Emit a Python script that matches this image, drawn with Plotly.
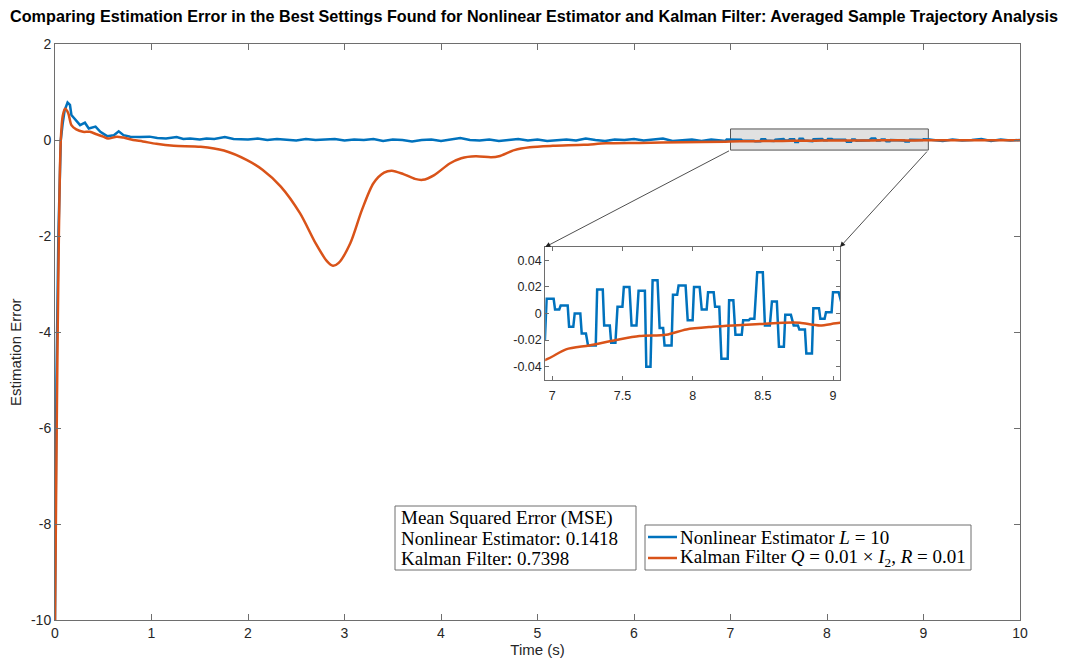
import plotly.graph_objects as go

BLUE = "#0072BD"
ORANGE = "#D95319"

# ---------------- data ----------------
# Nonlinear estimator (blue)
blue_t_early = [0.0, 0.015, 0.035, 0.06, 0.08, 0.10, 0.13, 0.155, 0.17, 0.20, 0.26, 0.31, 0.35, 0.42,
                0.47, 0.54, 0.61, 0.66, 0.71, 0.78, 0.88, 0.98, 1.06, 1.15, 1.26, 1.33, 1.40, 1.50,
                1.57, 1.65, 1.76, 1.85]
blue_v_early = [-10.0, -5.0, -2.0, 0.0, 0.35, 0.62, 0.78, 0.73, 0.52, 0.45, 0.31, 0.36, 0.24, 0.28,
                0.17, 0.08, 0.10, 0.18, 0.10, 0.07, 0.06, 0.07, 0.04, 0.03, 0.06, 0.02, 0.03, 0.01,
                0.03, 0.02, 0.06, 0.02]
blue_t_mid = [1.9, 2.0, 2.1, 2.2, 2.3, 2.4, 2.5, 2.6, 2.7, 2.8, 2.9, 3.0, 3.1, 3.2, 3.3, 3.4, 3.5,
              3.6, 3.7, 3.8, 3.9, 4.0, 4.1, 4.2, 4.3, 4.4, 4.5, 4.6, 4.7, 4.8, 4.9, 5.0, 5.1, 5.2,
              5.3, 5.4, 5.5, 5.6, 5.7, 5.8, 5.9, 6.0, 6.1, 6.2, 6.3, 6.4, 6.5, 6.6, 6.7, 6.8, 6.9]
blue_v_mid = [0.02, 0.01, 0.03, 0.0, 0.02, 0.01, -0.01, 0.02, 0.0, 0.01, 0.02, -0.01, 0.01, 0.0,
              0.02, -0.02, 0.01, 0.0, -0.03, 0.0, 0.01, -0.02, 0.01, 0.04, 0.0, -0.01, 0.01, -0.02,
              0.0, 0.02, -0.01, 0.01, -0.02, 0.0, 0.01, -0.01, 0.03, 0.0, -0.02, 0.01, 0.0, 0.02,
              -0.01, 0.01, 0.03, -0.02, 0.0, 0.01, -0.02, 0.01, -0.01]
blue_t_zoom = [6.93, 6.948, 6.96, 7.01, 7.02, 7.05, 7.06, 7.11, 7.12, 7.15, 7.16, 7.20, 7.21, 7.24,
               7.255, 7.31, 7.32, 7.36, 7.37, 7.41, 7.42, 7.45, 7.465, 7.50, 7.51, 7.55, 7.565,
               7.60, 7.615, 7.66, 7.67, 7.70, 7.715, 7.75, 7.765, 7.79, 7.80, 7.85, 7.86, 7.89,
               7.90, 7.95, 7.965, 8.00, 8.01, 8.05, 8.065, 8.10, 8.11, 8.15, 8.16, 8.19, 8.205,
               8.25, 8.26, 8.29, 8.305, 8.35, 8.36, 8.40, 8.41, 8.44, 8.46, 8.50, 8.515, 8.55,
               8.565, 8.60, 8.615, 8.65, 8.66, 8.70, 8.72, 8.75, 8.76, 8.80, 8.81, 8.85, 8.86,
               8.90, 8.91, 8.94, 8.95, 8.99, 9.00, 9.04, 9.06]
blue_v_zoom = [-0.019, -0.019, 0.011, 0.011, 0.003, 0.003, 0.006, 0.006, -0.010, -0.010, 0.0, 0.0,
               -0.015, -0.015, -0.024, -0.024, 0.018, 0.018, -0.009, -0.009, -0.022, -0.022,
               0.005, 0.005, 0.020, 0.020, -0.009, -0.009, 0.017, 0.017, -0.040, -0.040, 0.025,
               0.025, -0.011, -0.011, -0.024, -0.024, 0.014, 0.014, 0.021, 0.021, -0.005, -0.005,
               0.020, 0.020, 0.003, 0.003, 0.016, 0.016, 0.005, 0.005, -0.034, -0.034, 0.010,
               0.010, -0.016, -0.016, -0.005, -0.005, -0.004, -0.004, 0.031, 0.031, -0.009,
               -0.009, 0.009, 0.009, -0.025, -0.025, -0.001, -0.001, -0.009, -0.009, -0.012,
               -0.012, -0.030, -0.030, 0.004, 0.004, -0.004, -0.004, 0.001, 0.001, 0.016, 0.016,
               0.008]
blue_t_late = [9.1, 9.2, 9.3, 9.4, 9.5, 9.6, 9.7, 9.8, 9.9, 10.0]
blue_v_late = [0.0, -0.02, 0.01, -0.01, 0.0, 0.02, -0.02, 0.01, -0.01, 0.0]

# Kalman filter (orange)
kf_t_main = [0.0, 0.02, 0.04, 0.06, 0.08, 0.104, 0.137, 0.17, 0.22, 0.29, 0.36, 0.43, 0.50, 0.55,
             0.64, 0.71, 0.81, 0.91, 1.05, 1.23, 1.51, 1.75, 1.99, 2.15, 2.34, 2.54, 2.70, 2.82,
             2.88, 2.94, 3.06, 3.18, 3.30, 3.41, 3.49, 3.61, 3.73, 3.81, 3.93, 4.09, 4.21, 4.36,
             4.52, 4.60, 4.76, 4.92, 5.16, 5.48, 5.71, 6.06, 6.50]
kf_v_main = [-10.0, -5.5, -2.0, 0.0, 0.50, 0.65, 0.56, 0.31, 0.22, 0.17, 0.17, 0.12, 0.07, 0.03,
             0.07, 0.05, 0.0, -0.03, -0.08, -0.12, -0.14, -0.22, -0.42, -0.62, -0.97, -1.53,
             -2.15, -2.53, -2.62, -2.56, -2.15, -1.46, -0.90, -0.68, -0.64, -0.71, -0.81, -0.83,
             -0.73, -0.49, -0.38, -0.34, -0.36, -0.34, -0.21, -0.15, -0.12, -0.10, -0.07, -0.06,
             -0.045]
kf_t_zoom = [6.948, 7.098, 7.264, 7.455, 7.621, 7.812, 7.955, 8.145, 8.288, 8.479, 8.645, 8.764,
             8.907, 9.05]
kf_v_zoom = [-0.035, -0.027, -0.024, -0.020, -0.017, -0.016, -0.012, -0.010, -0.009, -0.008,
             -0.007, -0.007, -0.009, -0.007]
kf_t_late = [9.5, 10.0]
kf_v_late = [-0.006, -0.004]

x_ticks = [0, 1, 2, 3, 4, 5, 6, 7, 8, 9, 10]
y_ticks = [2, 0, -2, -4, -6, -8, -10]
y_tick_text = ["2", "0", "-2", "-4", "-6", "-8", "-10"]
inset_x_ticks = [7, 7.5, 8, 8.5, 9]
inset_y_ticks = [0.04, 0.02, 0, -0.02, -0.04]
inset_y_text = ["0.04", "0.02", "0", "-0.02", "-0.04"]

mse_nl = 0.1418
mse_kf = 0.7398

name_nl = "Nonlinear Estimator <i>L</i> = 10"
name_kf = "Kalman Filter <i>Q</i> = 0.01 × <i>I</i><sub>2</sub>, <i>R</i> = 0.01"

blue_t = blue_t_early + blue_t_mid + blue_t_zoom + blue_t_late
blue_v = blue_v_early + blue_v_mid + blue_v_zoom + blue_v_late
kf_t = kf_t_main + kf_t_zoom + kf_t_late
kf_v = kf_v_main + kf_v_zoom + kf_v_late

# ---------------- figure ----------------
W, H = 1068, 665
ML, MR, MT, MB = 55, 48, 44, 45
SANS = "Liberation Sans, Arial, sans-serif"
SERIF = "Liberation Serif, Times New Roman, serif"
TXT = "#262626"
AX = "#6e6e6e"


def px(x):
    return (x - ML) / (W - ML - MR)


def py(y):
    return (H - MB - y) / (H - MT - MB)


fig = go.Figure()
fig.add_trace(go.Scatter(x=blue_t, y=blue_v, mode="lines", line=dict(color=BLUE, width=2.5),
                         name=name_nl, showlegend=False, xaxis="x", yaxis="y"))
fig.add_trace(go.Scatter(x=kf_t, y=kf_v, mode="lines",
                         line=dict(color=ORANGE, width=2.5, shape="spline", smoothing=0.8),
                         name=name_kf, showlegend=False, xaxis="x", yaxis="y"))
fig.add_trace(go.Scatter(x=blue_t, y=blue_v, mode="lines", line=dict(color=BLUE, width=2.5),
                         showlegend=False, xaxis="x2", yaxis="y2"))
fig.add_trace(go.Scatter(x=kf_t, y=kf_v, mode="lines",
                         line=dict(color=ORANGE, width=2.5, shape="spline", smoothing=0.8),
                         showlegend=False, xaxis="x2", yaxis="y2"))

inset_x_dom = [0.508, 0.8135]
inset_y_dom = [0.4167, 0.6476]
inset_xr = [6.95, 9.05]
inset_yr = [-0.05, 0.05]

axis_common = dict(showgrid=False, zeroline=False, showline=True, linecolor=AX, linewidth=1,
                   ticks="inside", tickcolor=AX, ticklen=6, mirror="allticks",
                   tickfont=dict(family=SANS, size=14, color=TXT))
inset_common = {**axis_common, "tickfont": dict(family=SANS, size=12.5, color=TXT), "ticklen": 4}

fig.update_layout(
    width=W, height=H,
    margin=dict(l=ML, r=MR, t=MT, b=MB),
    paper_bgcolor="white", plot_bgcolor="white",
    title=dict(text="<b>Comparing Estimation Error in the Best Settings Found for Nonlinear Estimator and Kalman Filter: Averaged Sample Trajectory Analysis</b>",
               x=0.5, xanchor="center", y=1 - 16 / H, yanchor="middle",
               font=dict(family=SANS, size=16.2, color="black")),
    xaxis=dict(range=[0, 10], tickvals=x_ticks, domain=[0, 1],
               title=dict(text="Time (s)", font=dict(family=SANS, size=15, color=TXT), standoff=3),
               **axis_common),
    yaxis=dict(range=[-10, 2], tickvals=y_ticks, ticktext=y_tick_text, domain=[0, 1],
               **axis_common),
    xaxis2=dict(range=inset_xr, tickvals=inset_x_ticks, domain=inset_x_dom, anchor="y2",
                ticklabelstandoff=4, **inset_common),
    yaxis2=dict(range=inset_yr, tickvals=inset_y_ticks, ticktext=inset_y_text, domain=inset_y_dom,
                anchor="x2", **inset_common),
    showlegend=False,
)

# y-axis label
fig.add_annotation(xref="paper", yref="paper", x=px(15), y=py(352), text="Estimation Error",
                   textangle=-90, showarrow=False, xanchor="center", yanchor="middle",
                   font=dict(family=SANS, size=15, color=TXT))

# zoom highlight rectangle on main axes
fig.add_shape(type="rect", xref="x", yref="y", x0=7.0, x1=9.05, y0=-0.21, y1=0.23,
              fillcolor="rgba(200,200,200,0.55)", line=dict(color="#555", width=1), layer="below")

# connecting arrows (tail at rectangle corners, head at inset corners)
x_in_left = 0 + inset_x_dom[0] * 10
x_in_right = 0 + inset_x_dom[1] * 10
y_in_top = -10 + inset_y_dom[1] * 12
for hx, tx in [(x_in_left, 7.0), (x_in_right, 9.05)]:
    fig.add_annotation(x=hx, y=y_in_top, xref="x", yref="y", ax=tx, ay=-0.21, axref="x", ayref="y",
                       showarrow=True, arrowhead=2, arrowsize=1.3, arrowwidth=0.8,
                       arrowcolor="#222", text="")

# MSE text box
fig.add_shape(type="rect", xref="paper", yref="paper", x0=px(395), x1=px(636), y0=py(570), y1=py(506),
              fillcolor="white", line=dict(color=AX, width=1), layer="above")
mse_lines = ["Mean Squared Error (MSE)", f"Nonlinear Estimator: {mse_nl:.4f}", f"Kalman Filter: {mse_kf:.4f}"]
for i, s in enumerate(mse_lines):
    fig.add_annotation(xref="paper", yref="paper", x=px(399), y=py(518 + 20 * i), text=s,
                       xanchor="left", yanchor="middle", showarrow=False,
                       font=dict(family=SERIF, size=19, color="black"))

# legend box (drawn)
fig.add_shape(type="rect", xref="paper", yref="paper", x0=px(645), x1=px(971), y0=py(570), y1=py(525),
              fillcolor="white", line=dict(color=AX, width=1), layer="above")
for i, (nm, col) in enumerate([(name_nl, BLUE), (name_kf, ORANGE)]):
    yc = 537 + 21 * i
    fig.add_shape(type="line", xref="paper", yref="paper", x0=px(648), x1=px(677), y0=py(yc), y1=py(yc),
                  line=dict(color=col, width=2.5), layer="above")
    fig.add_annotation(xref="paper", yref="paper", x=px(678), y=py(yc), text=nm,
                       xanchor="left", yanchor="middle", showarrow=False,
                       font=dict(family=SERIF, size=19, color="black"))

fig.write_html("out.html")
